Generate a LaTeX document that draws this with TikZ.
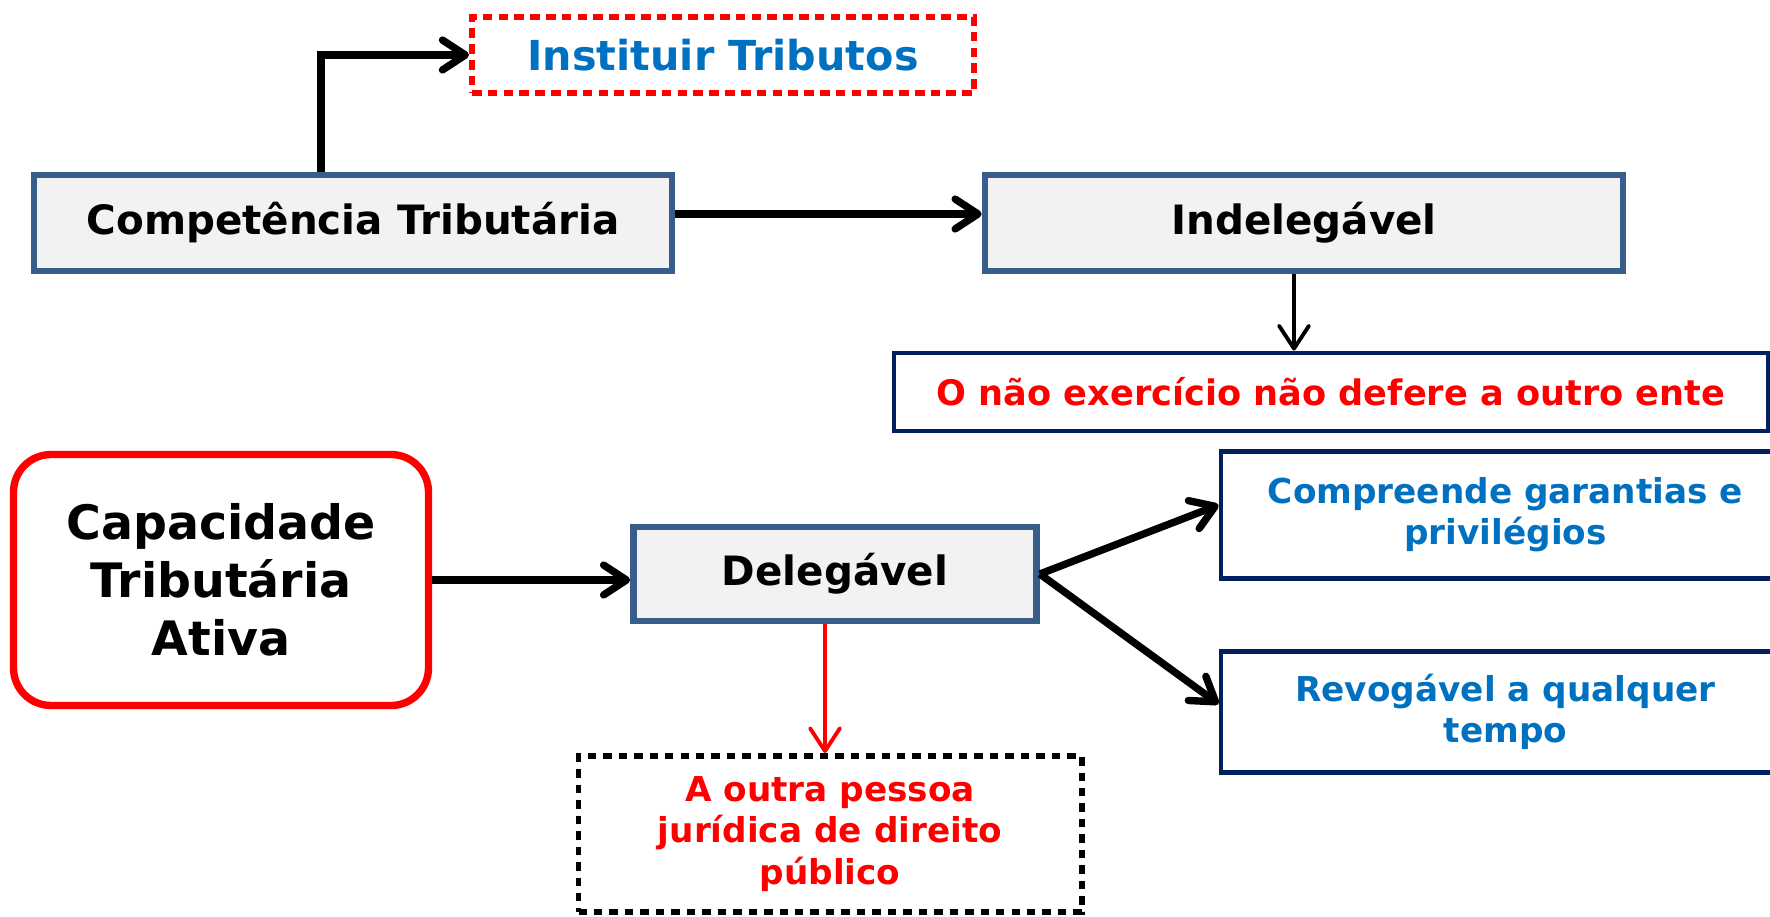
\documentclass[tikz,border=0pt]{standalone}
\usepackage{fontspec}
\setmainfont{DejaVu Sans}
\usetikzlibrary{arrows.meta}
\definecolor{azulcx}{HTML}{385D8A}
\definecolor{cinzacx}{HTML}{F2F2F2}
\definecolor{marinho}{HTML}{002060}
\definecolor{azultx}{HTML}{0070C0}
\definecolor{vermelho}{HTML}{FF0000}
\begin{document}
\begin{tikzpicture}[>={Straight Barb[length=13pt,width=17pt,round]},
  caixa/.style={draw=azulcx,fill=cinzacx,line width=3.8pt,inner sep=0pt,
    minimum width=12.76cm,minimum height=1.92cm,font=\fontsize{23}{28}\selectfont\bfseries},
  quadro/.style={draw=marinho,fill=white,line width=2.8pt,inner sep=0pt,align=center,
    font=\fontsize{19.5}{23.5}\selectfont\bfseries},
  grossa/.style={->,line width=4.2pt},
  fina/.style={->,line width=2.2pt}]
\useasboundingbox (0,0) rectangle (35.4,18.32);
%Caixa 1
\node[caixa] (comp) at (7.06,13.86) {Competência Tributária};
\node[draw=vermelho,line width=3.4pt,dash pattern=on 5.5pt off 3.5pt,inner sep=0pt,
  minimum width=10.04cm,minimum height=1.52cm,text=azultx,
  font=\fontsize{23.5}{28}\selectfont\bfseries] (inst) at (14.46,17.22) {Instituir Tributos};
%Caixa 2
\node[caixa] (indel) at (26.08,13.86) {Indelegável};
\node[quadro,minimum width=17.48cm,minimum height=1.56cm,text=vermelho,
  font=\fontsize{20}{24}\selectfont\bfseries] (naoex) at (26.62,10.48) {O não exercício não defere a outro ente};
%Caixa 3
\node[draw=vermelho,line width=4.2pt,rounded corners=0.75cm,inner sep=0pt,align=center,
  minimum width=8.3cm,minimum height=5.02cm,
  font=\fontsize{27}{33}\selectfont\bfseries] (capac) at (4.42,6.72) {Capacidade\\Tributária\\Ativa};
\node[caixa,minimum width=8.06cm,minimum height=1.88cm] (deleg) at (16.70,6.84) {Delegável};
%Caixa 4
\node[quadro,minimum width=11.38cm,minimum height=2.54cm,text=azultx] (compr) at (30.11,8.02)
  {Compreende garantias e\\privilégios};
\node[quadro,minimum width=11.38cm,minimum height=2.42cm,text=azultx] (revog) at (30.11,4.08)
  {Revogável a qualquer\\tempo};
\node[draw=black,line width=3.4pt,dash pattern=on 4.8pt off 4pt,inner sep=0pt,align=center,
  minimum width=10.06cm,minimum height=3.12cm,text=vermelho,
  font=\fontsize{19.5}{23.5}\selectfont\bfseries] (outra) at (16.6,1.64)
  {A outra pessoa\\jurídica de direito\\público};
%Setas
\draw[grossa] ([xshift=-0.64cm]comp.north) |- (inst.west);
\draw[grossa] ([yshift=0.18cm]comp.east) -- ([yshift=0.18cm]indel.west);
\coordinate (pe) at ([xshift=-0.2cm]indel.south);
\draw[fina] (pe) -- (pe |- naoex.north);
\draw[grossa] (capac.east) -- (capac.east -| deleg.west);
\draw[grossa] (deleg.east) -- ([yshift=0.2cm]compr.west);
\draw[grossa] (deleg.east) -- ([yshift=0.16cm]revog.west);
\coordinate (pd) at ([xshift=-0.2cm]deleg.south);
\draw[fina,vermelho] (pd) -- (pd |- outra.north);
\end{tikzpicture}
\end{document}
